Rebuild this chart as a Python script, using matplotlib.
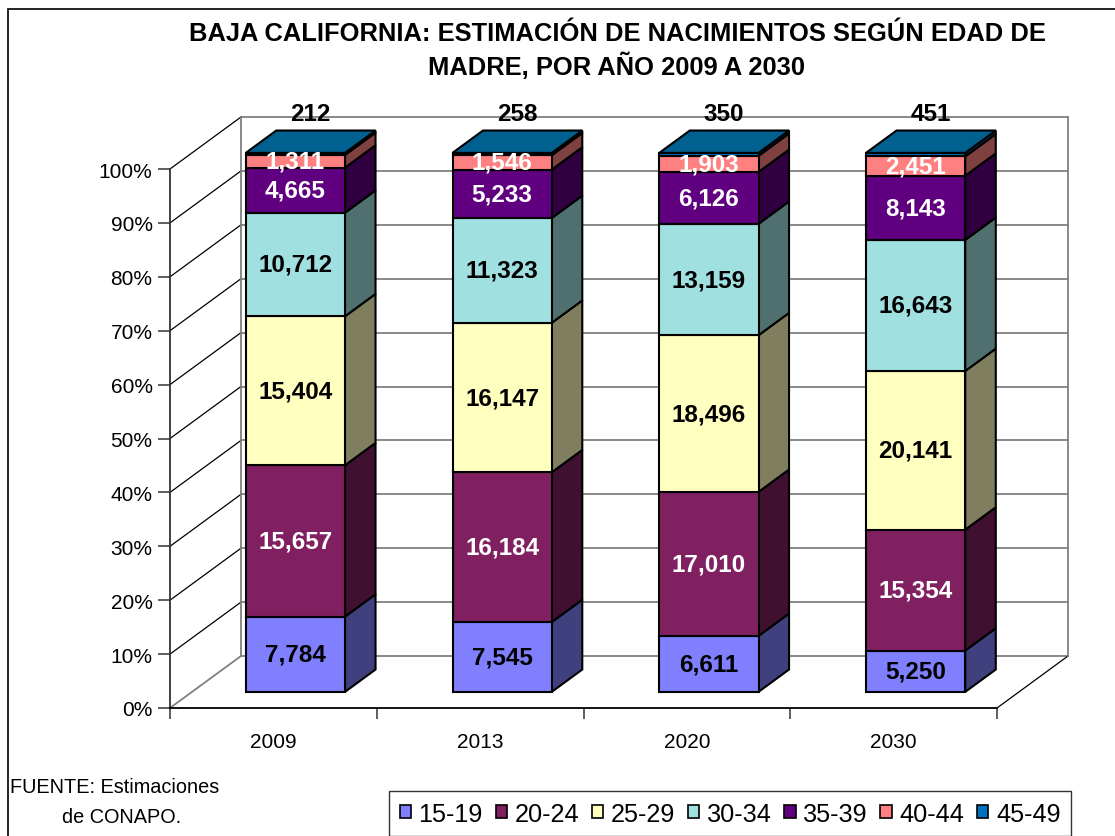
import matplotlib
matplotlib.use('Agg')
import matplotlib.pyplot as plt
from matplotlib.patches import Polygon, Patch, Rectangle
from matplotlib.lines import Line2D

plt.rcParams['font.family'] = ['Liberation Sans', 'DejaVu Sans']

# ---------------- data ----------------
years = ['2009', '2013', '2020', '2030']
age_groups = ['15-19', '20-24', '25-29', '30-34', '35-39', '40-44', '45-49']
g15_19 = [7784, 7545, 6611, 5250]
g20_24 = [15657, 16184, 17010, 15354]
g25_29 = [15404, 16147, 18496, 20141]
g30_34 = [10712, 11323, 13159, 16643]
g35_39 = [4665, 5233, 6126, 8143]
g40_44 = [1311, 1546, 1903, 2451]
g45_49 = [212, 258, 350, 451]
series = [g15_19, g20_24, g25_29, g30_34, g35_39, g40_44, g45_49]

y_ticks = list(range(0, 101, 10))
y_ticklabels = [f'{v}%' for v in y_ticks]

title = 'BAJA CALIFORNIA: ESTIMACIÓN DE NACIMIENTOS SEGÚN EDAD DE\nMADRE, POR AÑO 2009 A 2030'
source_l1 = 'FUENTE: Estimaciones'
source_l2 = 'de CONAPO.'

# ---------------- style ----------------
front_colors = ['#8080FF', '#802060', '#FFFFC0', '#A0E0E0', '#600080', '#FF8080', '#0070C0']
side_colors = ['#40407F', '#401030', '#7F7F60', '#507070', '#300040', '#7F4040', '#003860']
top_color = '#006090'
label_colors = ['black', 'white', 'black', 'black', 'white', 'white', 'black']

W, H = 1115, 837
fig = plt.figure(figsize=(W / 100, H / 100), dpi=100)
fig.patch.set_facecolor('white')

# chart border
fig.add_artist(Rectangle((8 / W, -0.1), 1.2, 1 - 10 / H + 0.1, transform=fig.transFigure,
                         fill=False, edgecolor='black', linewidth=1.2))

ax_l, ax_r, ax_t, ax_b = 170, 997, 170, 709
ax = fig.add_axes([ax_l / W, (H - ax_b) / H, (ax_r - ax_l) / W, (ax_b - ax_t) / H])
ax.set_xlim(0, 4)
ax.set_ylim(0, 100)
ax.patch.set_visible(False)
for s in ['top', 'right']:
    ax.spines[s].set_visible(False)
ax.spines['left'].set_color('#333333')
ax.spines['left'].set_linewidth(1.3)
ax.spines['bottom'].set_color('black')
ax.spines['bottom'].set_linewidth(1.3)
ax.spines['left'].set_zorder(5)
ax.spines['bottom'].set_zorder(5)

# depth offsets for pseudo-3D (one full depth unit = wall depth)
DX = 71 / ((ax_r - ax_l) / 4)
DY = 52 / ((ax_b - ax_t) / 100)


def P(x, y, d):
    return (x + d * DX, y + d * DY)


ncat = len(years)
# back wall gridlines
for v in y_ticks:
    a, b = P(0, v, 1), P(ncat, v, 1)
    ax.add_line(Line2D([a[0], b[0]], [a[1], b[1]], color='#808080', lw=1.3, clip_on=False, zorder=1))
    if v > 0:
        a, b = P(0, v, 0), P(0, v, 1)
        ax.add_line(Line2D([a[0], b[0]], [a[1], b[1]], color='black', lw=0.9, clip_on=False, zorder=1))
# floor diagonals and back wall edges
a, b = P(0, 0, 0), P(0, 0, 1)
ax.add_line(Line2D([a[0], b[0]], [a[1], b[1]], color='#808080', lw=1.3, clip_on=False, zorder=1))
a, b = P(ncat, 0, 0), P(ncat, 0, 1)
ax.add_line(Line2D([a[0], b[0]], [a[1], b[1]], color='black', lw=0.9, clip_on=False, zorder=1))
for xx in [0, ncat]:
    a, b = P(xx, 0, 1), P(xx, 100, 1)
    ax.add_line(Line2D([a[0], b[0]], [a[1], b[1]], color='#808080', lw=1.3, clip_on=False, zorder=1))

# bars
hw = 0.24
d0, d1 = 0.31, 0.74
for i in range(ncat):
    vals = [s[i] for s in series]
    total = sum(vals)
    xc = i + 0.5
    x0, x1 = xc - hw, xc + hw
    cum = 0.0
    for j, v in enumerate(vals):
        y0 = cum / total * 100
        cum += v
        y1 = cum / total * 100
        front = [P(x0, y0, d0), P(x1, y0, d0), P(x1, y1, d0), P(x0, y1, d0)]
        side = [P(x1, y0, d0), P(x1, y0, d1), P(x1, y1, d1), P(x1, y1, d0)]
        ax.add_patch(Polygon(side, closed=True, facecolor=side_colors[j], edgecolor='black',
                             lw=1.5, clip_on=False, zorder=3, joinstyle='miter'))
        ax.add_patch(Polygon(front, closed=True, facecolor=front_colors[j], edgecolor='black',
                             lw=1.5, clip_on=False, zorder=3, joinstyle='miter'))
        if j < len(vals) - 1:
            cx, cy = P(xc, (y0 + y1) / 2, d0)
            ax.text(cx, cy, f'{v:,}', ha='center', va='center', fontsize=17.5, fontweight='bold',
                    color=label_colors[j], zorder=10, clip_on=False)
        else:
            top = [P(x0, 100, d0), P(x1, 100, d0), P(x1, 100, d1), P(x0, 100, d1)]
            ax.add_patch(Polygon(top, closed=True, facecolor=top_color, edgecolor='black',
                                 lw=1.5, clip_on=False, zorder=4, joinstyle='miter'))
            cx, cy = P(xc, 100, (d0 + d1) / 2)
            ax.annotate(f'{v:,}', (cx, cy), xytext=(0, 20), textcoords='offset points',
                        ha='center', va='center', fontsize=17.5, fontweight='bold',
                        color=label_colors[j], zorder=10, annotation_clip=False)

# axes ticks
ax.set_yticks(y_ticks, y_ticklabels)
ax.tick_params(axis='y', direction='out', length=8.6, width=1.1, labelsize=15, pad=4, color='#333333')
ax.set_xticks(range(ncat + 1), [''] * (ncat + 1))
ax.set_xticks([k + 0.5 for k in range(ncat)], years, minor=True)
ax.tick_params(axis='x', which='major', direction='out', length=8, width=1.1, color='#333333')
ax.tick_params(axis='x', which='minor', length=0, labelsize=15, pad=17)

# title
fig.text(617 / W, 1 - 51 / H, title, ha='center', va='center', fontsize=18.4, fontweight='bold',
         linespacing=1.3)

# source note
fig.text(10 / W, 1 - 788 / H, source_l1, ha='left', va='center', fontsize=14.3)
fig.text(62 / W, 1 - 818 / H, source_l2, ha='left', va='center', fontsize=14.3)

# legend
handles = [Patch(facecolor=c, edgecolor='black', linewidth=1.2) for c in front_colors]
leg = fig.legend(handles, age_groups, loc='upper left', bbox_to_anchor=(389 / W, 1 - 792 / H),
                 ncol=7, fontsize=18.2, frameon=True, fancybox=False, edgecolor='black',
                 handlelength=0.45, handleheight=0.45, handletextpad=0.3, columnspacing=0.5,
                 borderpad=0.42, borderaxespad=0)
leg.get_frame().set_linewidth(1.0)

fig.savefig('out.png', dpi=100, facecolor='white')
